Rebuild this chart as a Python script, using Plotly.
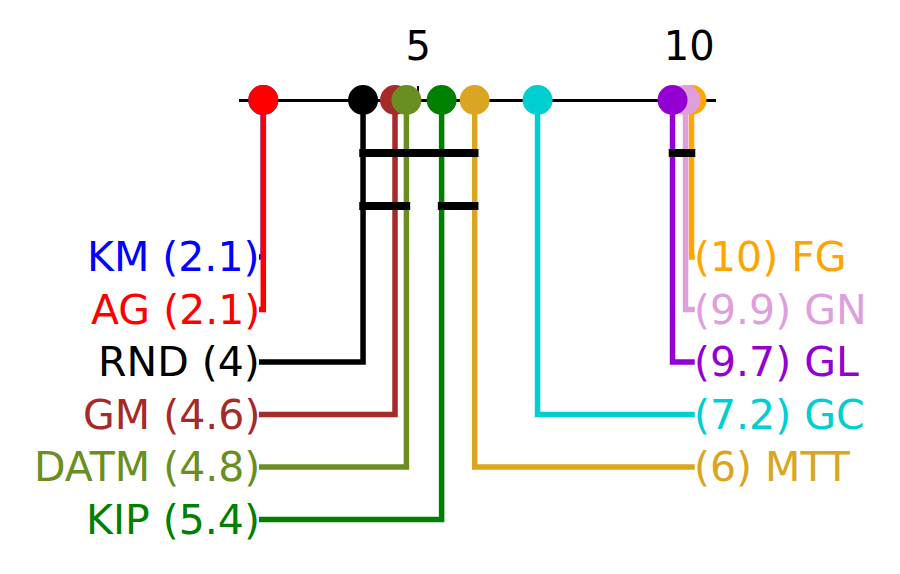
import plotly.graph_objects as go

# ---- data ----
methods = ["KM", "AG", "RND", "GM", "DATM", "KIP", "FG", "GN", "GL", "GC", "MTT"]
ranks = [2.14, 2.14, 3.98, 4.57, 4.78, 5.43, 10.04, 9.93, 9.69, 7.20, 6.04]
colors = ["blue", "red", "black", "brown", "olivedrab", "green",
          "orange", "plum", "darkviolet", "darkturquoise", "goldenrod"]
sides = ["L", "L", "L", "L", "L", "L", "R", "R", "R", "R", "R"]
cliques = [("RND", "MTT"), ("RND", "DATM"), ("KIP", "MTT"), ("GL", "FG")]
clique_levels = [0, 1, 1, 0]
tick_values = [5, 10]
tick_labels = ["5", "10"]

# ---- layout constants ----
W, H = 900, 574
OFF = 8                      # page body margin compensation (px)
PX_PER_RANK = 54.2
RANK_AT_LEFT = -2.718 + OFF / PX_PER_RANK
AXIS_LO, AXIS_HI = 1.70, 10.50
AXIS_Y = 100 - OFF
ROW0, ROW_STEP = 257 - OFF, 52.5
CLQ0, CLQ_STEP = 153 - OFF, 53
LEFT_TEXT_X, RIGHT_TEXT_X = 2.06, 10.10
TEXT_SHIFT = 3
CLQ_PAD = 0.07
FONT = "DejaVu Sans"
FS_LABEL = 41
FS_TICK = 40


def frac(r):
    return (r - RANK_AT_LEFT) * PX_PER_RANK / W


def fmt(v):
    return f"{v:.1f}".rstrip("0").rstrip(".")


fig = go.Figure()
annotations = []
li = ri = 0
for m, r, c, s in zip(methods, ranks, colors, sides):
    if s == "L":
        y = ROW0 + li * ROW_STEP
        li += 1
        ex = LEFT_TEXT_X
        txt = f"{m} ({fmt(r)})"
        anchor = "right"
        shift = TEXT_SHIFT
    else:
        y = ROW0 + ri * ROW_STEP
        ri += 1
        ex = RIGHT_TEXT_X
        txt = f"({fmt(r)}) {m}"
        anchor = "left"
        shift = -TEXT_SHIFT
    fig.add_trace(go.Scatter(x=[r, r, ex], y=[AXIS_Y, y, y], mode="lines",
                             line=dict(color=c, width=5.5), hoverinfo="skip",
                             cliponaxis=False, showlegend=False))
    fig.add_trace(go.Scatter(x=[r], y=[AXIS_Y], mode="markers",
                             marker=dict(color=c, size=30, line=dict(width=0)),
                             cliponaxis=False, showlegend=False))
    annotations.append(dict(x=ex, y=y, xref="x", yref="y", text=txt,
                            showarrow=False, xanchor=anchor, yanchor="middle",
                            xshift=shift,
                            font=dict(family=FONT, size=FS_LABEL, color=c)))

rank_of = dict(zip(methods, ranks))
for (a, b), lvl in zip(cliques, clique_levels):
    y = CLQ0 + lvl * CLQ_STEP
    fig.add_trace(go.Scatter(x=[rank_of[a] - CLQ_PAD, rank_of[b] + CLQ_PAD], y=[y, y],
                             mode="lines", line=dict(color="black", width=8),
                             cliponaxis=False, showlegend=False, hoverinfo="skip"))

fig.update_layout(
    width=W, height=H, margin=dict(l=0, r=0, t=0, b=0),
    paper_bgcolor="white", plot_bgcolor="white",
    annotations=annotations,
    xaxis=dict(domain=[frac(AXIS_LO), frac(AXIS_HI)], range=[AXIS_LO, AXIS_HI],
               anchor="free", position=1 - AXIS_Y / H, side="top",
               showline=True, linecolor="black", linewidth=3,
               ticks="outside", ticklen=13, tickwidth=2, tickcolor="black",
               tickvals=tick_values, ticktext=tick_labels,
               tickfont=dict(family=FONT, size=FS_TICK, color="black"),
               ticklabelstandoff=10,
               showgrid=False, zeroline=False, layer="below traces"),
    yaxis=dict(domain=[0, 1], range=[H, 0], visible=False, showgrid=False,
               zeroline=False),
    showlegend=False,
)

fig.write_html("out.html")
